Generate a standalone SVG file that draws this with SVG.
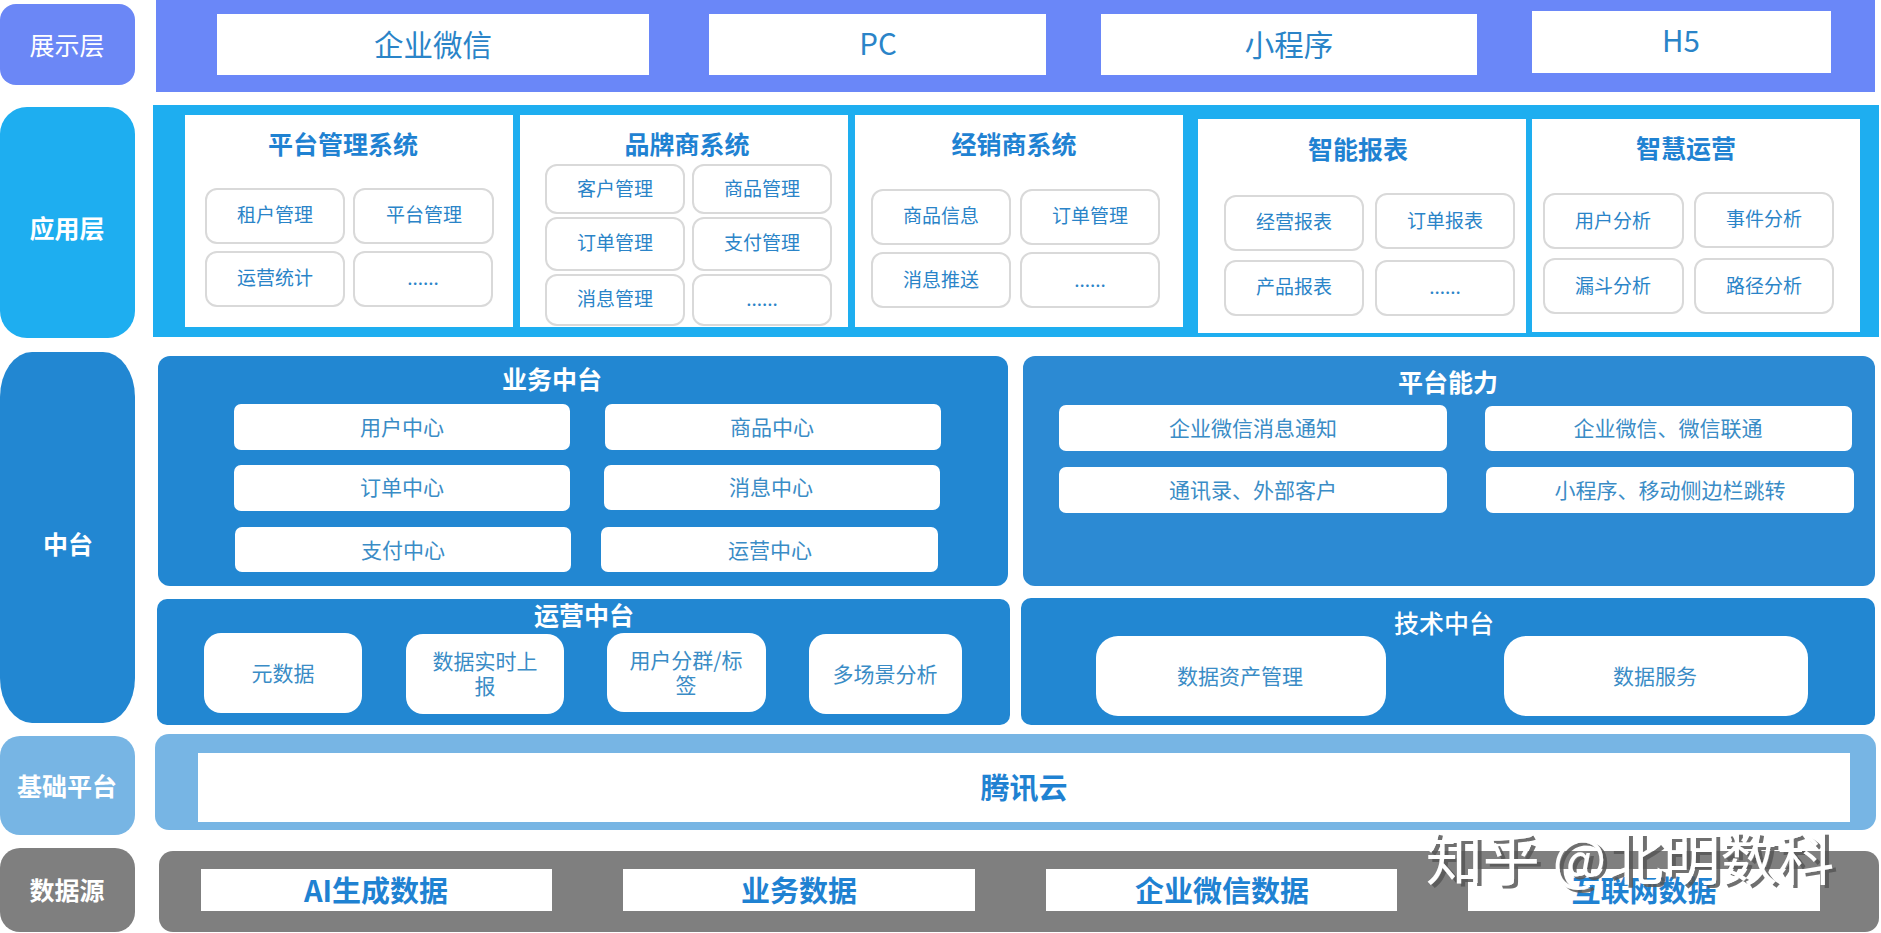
<svg xmlns="http://www.w3.org/2000/svg" width="1881" height="933" viewBox="0 0 1881 933">
<style>
text{font-family:"Noto Sans CJK SC","Microsoft YaHei","Noto Sans",sans-serif;text-anchor:middle;dominant-baseline:central;transform:translateY(-1.5px)}
.w{fill:#fff}
.c{fill:#fff;stroke:#d9d9d9;stroke-width:2}
.lab{fill:#fff;font-size:25px;font-weight:700}
.labr{fill:#fff;font-size:25px;font-weight:400}
.big{fill:#2a84c8;font-size:29.5px;font-weight:400}
.bb{fill:#1f82d2;font-size:29px;font-weight:700}
.t{fill:#1f82d2;font-size:25px;font-weight:700}
.s{fill:#2a84c8;font-size:19px;font-weight:400}
.m{fill:#3a8cc6;font-size:21px;font-weight:400}
.mark{fill:#fff;font-size:57px;font-weight:400;filter:url(#sh)}
</style>
<defs><filter id="sh" x="-5%" y="-20%" width="110%" height="140%"><feDropShadow dx="4" dy="3" stdDeviation="0.5" flood-color="#555" flood-opacity="0.85"/></filter></defs>
<g id="connectors"/>
<g id="layer-display">
<rect x="0" y="4" width="135" height="81" rx="16" fill="#6b87f6"/>
<text class="labr" x="67" y="45">展示层</text>
<rect x="156" y="0" width="1719" height="92" fill="#6a87f8"/>
<g id="d1"><rect class="w" x="217" y="14" width="432" height="61"/><text class="big" x="433" y="44">企业微信</text></g>
<g id="d2"><rect class="w" x="709" y="14" width="337" height="61"/><text class="big" x="878" y="43">PC</text></g>
<g id="d3"><rect class="w" x="1101" y="14" width="376" height="61"/><text class="big" x="1289" y="44">小程序</text></g>
<g id="d4"><rect class="w" x="1532" y="11" width="299" height="62"/><text class="big" x="1681" y="40">H5</text></g>
</g>
<g id="layer-app">
<rect x="0" y="107" width="135" height="231" rx="27" fill="#1eaef0"/>
<text class="lab" x="67" y="228">应用层</text>
<rect x="153" y="105" width="1726" height="232" fill="#1eaef0"/>
<g id="a1"><rect class="w" x="185" y="115" width="328" height="212"/><text class="t" x="343" y="144">平台管理系统</text>
<rect class="c" x="206" y="189" width="138" height="54" rx="11"/><text class="s" x="275" y="215">租户管理</text>
<rect class="c" x="354" y="189" width="139" height="54" rx="11"/><text class="s" x="424" y="215">平台管理</text>
<rect class="c" x="206" y="252" width="138" height="54" rx="11"/><text class="s" x="275" y="278">运营统计</text>
<rect class="c" x="354" y="252" width="138" height="54" rx="11"/><text class="s" x="423" y="278">......</text></g>
<g id="a2"><rect class="w" x="520" y="115" width="328" height="212"/><text class="t" x="687" y="144">品牌商系统</text>
<rect class="c" x="546" y="165" width="138" height="48" rx="11"/><text class="s" x="615" y="189">客户管理</text>
<rect class="c" x="693" y="165" width="138" height="48" rx="11"/><text class="s" x="762" y="189">商品管理</text>
<rect class="c" x="546" y="218" width="138" height="52" rx="11"/><text class="s" x="615" y="243">订单管理</text>
<rect class="c" x="693" y="218" width="138" height="52" rx="11"/><text class="s" x="762" y="243">支付管理</text>
<rect class="c" x="546" y="275" width="138" height="50" rx="11"/><text class="s" x="615" y="299">消息管理</text>
<rect class="c" x="693" y="275" width="138" height="50" rx="11"/><text class="s" x="762" y="299">......</text></g>
<g id="a3"><rect class="w" x="855" y="115" width="328" height="212"/><text class="t" x="1014" y="144">经销商系统</text>
<rect class="c" x="872" y="190" width="138" height="54" rx="11"/><text class="s" x="941" y="216">商品信息</text>
<rect class="c" x="1021" y="190" width="138" height="54" rx="11"/><text class="s" x="1090" y="216">订单管理</text>
<rect class="c" x="872" y="253" width="138" height="54" rx="11"/><text class="s" x="941" y="280">消息推送</text>
<rect class="c" x="1021" y="253" width="138" height="54" rx="11"/><text class="s" x="1090" y="280">......</text></g>
<g id="a4"><rect class="w" x="1198" y="119" width="328" height="214"/><text class="t" x="1358" y="149">智能报表</text>
<rect class="c" x="1225" y="196" width="138" height="54" rx="11"/><text class="s" x="1294" y="222">经营报表</text>
<rect class="c" x="1376" y="194" width="138" height="54" rx="11"/><text class="s" x="1445" y="221">订单报表</text>
<rect class="c" x="1225" y="261" width="138" height="54" rx="11"/><text class="s" x="1294" y="287">产品报表</text>
<rect class="c" x="1376" y="261" width="138" height="54" rx="11"/><text class="s" x="1445" y="287">......</text></g>
<g id="a5"><rect class="w" x="1532" y="119" width="328" height="213"/><text class="t" x="1686" y="148">智慧运营</text>
<rect class="c" x="1544" y="194" width="139" height="54" rx="11"/><text class="s" x="1613" y="221">用户分析</text>
<rect class="c" x="1695" y="193" width="138" height="54" rx="11"/><text class="s" x="1764" y="219">事件分析</text>
<rect class="c" x="1544" y="259" width="139" height="54" rx="11"/><text class="s" x="1613" y="286">漏斗分析</text>
<rect class="c" x="1695" y="259" width="138" height="54" rx="11"/><text class="s" x="1764" y="286">路径分析</text></g>
</g>
<g id="layer-middle">
<rect x="0" y="352" width="135" height="371" rx="32" ry="45" fill="#2287d2"/>
<text class="lab" x="68" y="544">中台</text>
<g id="m1"><rect x="158" y="356" width="850" height="230" rx="12" fill="#2287d2"/><text class="lab" x="552" y="379">业务中台</text>
<rect class="w" x="234" y="404" width="336" height="46" rx="7"/><text class="m" x="402" y="427">用户中心</text>
<rect class="w" x="605" y="404" width="336" height="46" rx="7"/><text class="m" x="772" y="427">商品中心</text>
<rect class="w" x="234" y="465" width="336" height="46" rx="7"/><text class="m" x="402" y="487">订单中心</text>
<rect class="w" x="604" y="465" width="336" height="45" rx="7"/><text class="m" x="771" y="487">消息中心</text>
<rect class="w" x="235" y="527" width="336" height="45" rx="7"/><text class="m" x="403" y="550">支付中心</text>
<rect class="w" x="601" y="527" width="337" height="45" rx="7"/><text class="m" x="770" y="550">运营中心</text></g>
<g id="m2"><rect x="1023" y="356" width="852" height="230" rx="12" fill="#2c8ad3"/><text class="lab" x="1448" y="382">平台能力</text>
<rect class="w" x="1059" y="405" width="388" height="46" rx="7"/><text class="m" x="1253" y="428">企业微信消息通知</text>
<rect class="w" x="1485" y="406" width="367" height="45" rx="7"/><text class="m" x="1668" y="428">企业微信、微信联通</text>
<rect class="w" x="1059" y="467" width="388" height="46" rx="7"/><text class="m" x="1253" y="490">通讯录、外部客户</text>
<rect class="w" x="1486" y="467" width="368" height="46" rx="7"/><text class="m" x="1670" y="490">小程序、移动侧边栏跳转</text></g>
<g id="m3"><rect x="157" y="599" width="853" height="126" rx="10" fill="#2287d2"/><text class="lab" x="584" y="615">运营中台</text>
<rect class="w" x="204" y="633" width="158" height="80" rx="17"/><text class="m" x="283" y="673">元数据</text>
<rect class="w" x="406" y="634" width="158" height="80" rx="17"/><text class="m" x="485" y="661"><tspan x="485">数据实时上</tspan><tspan x="485" dy="25">报</tspan></text>
<rect class="w" x="607" y="633" width="159" height="79" rx="17"/><text class="m" x="686" y="660"><tspan x="686">用户分群/标</tspan><tspan x="686" dy="25">签</tspan></text>
<rect class="w" x="809" y="634" width="153" height="80" rx="17"/><text class="m" x="885" y="674">多场景分析</text></g>
<g id="m4"><rect x="1021" y="598" width="854" height="127" rx="10" fill="#2287d2"/><text class="labr" x="1444" y="623" style="font-weight:500">技术中台</text>
<rect class="w" x="1096" y="636" width="290" height="80" rx="22"/><text class="m" x="1240" y="676">数据资产管理</text>
<rect class="w" x="1504" y="636" width="304" height="80" rx="22"/><text class="m" x="1655" y="676">数据服务</text></g>
</g>
<g id="layer-base">
<rect x="0" y="736" width="135" height="99" rx="20" fill="#77b5e4"/>
<text class="lab" x="67" y="786">基础平台</text>
<rect x="155" y="734" width="1721" height="96" rx="14" fill="#77b5e4"/>
<g id="b1"><rect class="w" x="198" y="753" width="1652" height="69"/><text class="bb" x="1024" y="787">腾讯云</text></g>
</g>
<g id="layer-data">
<rect x="0" y="848" width="135" height="84" rx="20" fill="#7f7f7f"/>
<text class="lab" x="67" y="890">数据源</text>
<rect x="159" y="851" width="1720" height="81" rx="14" fill="#7f7f7f"/>
<g id="s1"><rect class="w" x="201" y="869" width="351" height="42"/><text class="bb" x="376" y="890">AI生成数据</text></g>
<g id="s2"><rect class="w" x="623" y="869" width="352" height="42"/><text class="bb" x="799" y="890">业务数据</text></g>
<g id="s3"><rect class="w" x="1046" y="869" width="351" height="42"/><text class="bb" x="1222" y="890">企业微信数据</text></g>
<g id="s4"><rect class="w" x="1468" y="869" width="352" height="42"/><text class="bb" x="1644" y="890">互联网数据</text></g>
</g>
<text class="mark" x="1630" y="856">知乎 @北明数科</text>
</svg>
